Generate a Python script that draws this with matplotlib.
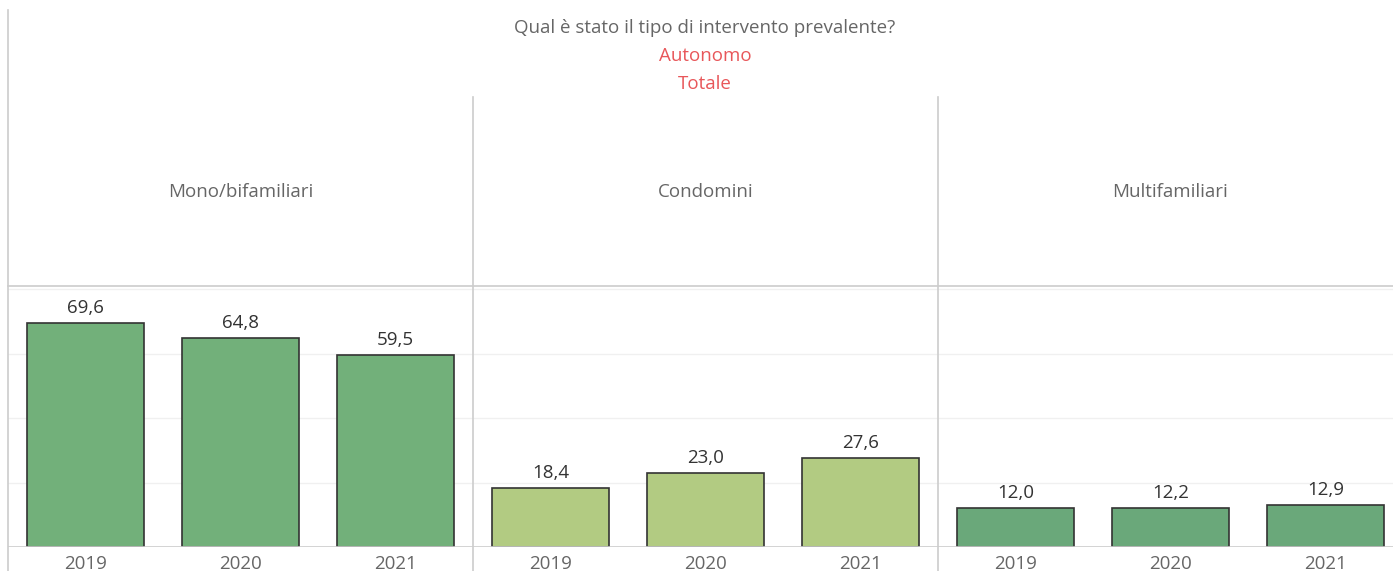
import matplotlib
matplotlib.use("Agg")
import matplotlib.pyplot as plt
from matplotlib.lines import Line2D

plt.rcParams['font.family'] = ['Open Sans', 'DejaVu Sans']

title = "Qual è stato il tipo di intervento prevalente?"
subtitle1 = "Autonomo"
subtitle2 = "Totale"
categories = ["Mono/bifamiliari", "Condomini", "Multifamiliari"]
years = ["2019", "2020", "2021"]
mono = [69.6, 64.8, 59.5]
condomini = [18.4, 23.0, 27.6]
multi = [12.0, 12.2, 12.9]
series = [mono, condomini, multi]
colors = ["#72b07a", "#b2cb82", "#6aa87a"]

W, H = 1393, 571
fig = plt.figure(figsize=(W / 100, H / 100), dpi=100)

def fx(px):
    return px / W

def fy(py):
    return 1 - py / H

# axes region in pixels: x 8..1393, y 286..547
ax = fig.add_axes([fx(8), fy(547), fx(1393) - fx(8), fy(286) - fy(547)])
slot_px = 155.0
ax.set_xlim(-0.5, -0.5 + (1393 - 8) / slot_px)
ax.set_ylim(0, 261 / 3.22)

for gi, (vals, col) in enumerate(zip(series, colors)):
    for yi, v in enumerate(vals):
        x = gi * 3 + yi
        ax.bar(x, v, width=0.75, color=col, edgecolor="#333333", linewidth=1.2, zorder=3)
        ax.text(x, v + 1.9, f"{v:.1f}".replace(".", ","), ha="center", va="bottom",
                fontsize=13.5, color="#333333", zorder=4)
        ax.text(x, -2.6, years[yi], ha="center", va="top", fontsize=13.5,
                color="#666666", clip_on=False)

for g in [20, 40, 60, 80]:
    ax.axhline(g, color="#f0f0f0", linewidth=1, zorder=1)

ax.axhline(0, color="#cccccc", linewidth=1.2, zorder=5)
for sp in ax.spines.values():
    sp.set_visible(False)
ax.set_xticks([])
ax.set_yticks([])

# frame lines in figure coordinates
line_col = "#cccccc"
fig.add_artist(Line2D([fx(8), fx(8)], [fy(10), fy(571)], color=line_col, lw=1.2))
for xp in [473, 938]:
    fig.add_artist(Line2D([fx(xp), fx(xp)], [fy(97), fy(571)], color=line_col, lw=1.2))
fig.add_artist(Line2D([fx(8), fx(1393)], [fy(286), fy(286)], color=line_col, lw=1.2))

# category headers
centers = [8 + slot_px * (1.5 + 3 * i) for i in range(3)]
for c, name in zip(centers, categories):
    fig.text(fx(c), fy(192), name, ha="center", va="center", fontsize=13.5, color="#666666")

fig.text(fx(705), fy(28), title, ha="center", va="center", fontsize=13.5, color="#666666")
fig.text(fx(705), fy(56), subtitle1, ha="center", va="center", fontsize=13.5, color="#e8575a")
fig.text(fx(705), fy(84), subtitle2, ha="center", va="center", fontsize=13.5, color="#e8575a")

fig.savefig("out.png", dpi=100)
